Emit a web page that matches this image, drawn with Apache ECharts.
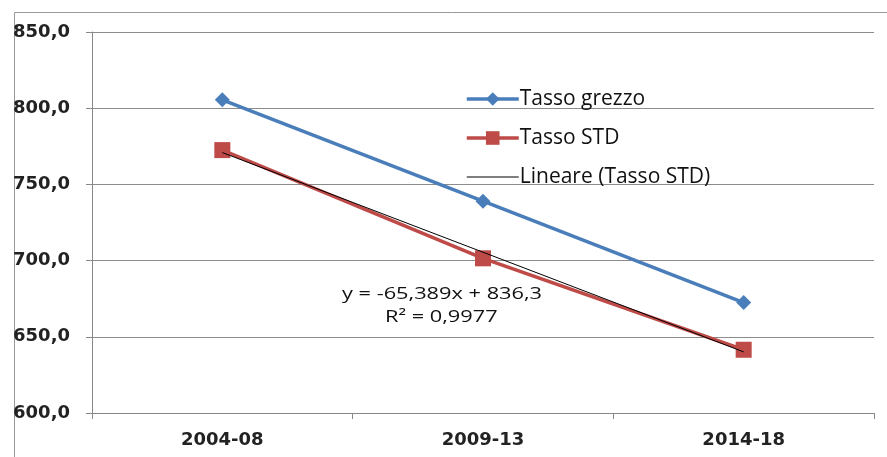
<!DOCTYPE html>
<html><head><meta charset="utf-8">
<script src="https://cdn.jsdelivr.net/npm/echarts@6/dist/echarts.min.js"></script>
<style>html,body{margin:0;padding:0;background:#fff}#c{width:887px;height:457px}</style>
</head><body><div id="c"></div>
<script>
const categories = ['2004-08', '2009-13', '2014-18'];
const tassoGrezzo = [805.5, 739.0, 672.5];
const tassoSTD = [772.5, 701.5, 641.5];
const trendSTD = [770.9, 705.5, 640.1];
const yTicks = [600, 650, 700, 750, 800, 850];
const eqText = 'y = -65,389x + 836,3';
const r2Text = 'R² = 0,9977';

const chart = echarts.init(document.getElementById('c'), null, {renderer: 'canvas'});
const lblFont = '"DejaVu Sans", Verdana, sans-serif';
const txtFont = '"Open Sans", Lato, sans-serif';
chart.setOption({
  animation: false,
  backgroundColor: '#fff',
  grid: {left: 92, right: 13, top: 32, bottom: 44, containLabel: false},
  xAxis: {
    type: 'category', data: categories, boundaryGap: true,
    axisLine: {lineStyle: {color: '#888', width: 1}},
    axisTick: {show: true, length: 6, lineStyle: {color: '#888'}},
    axisLabel: {color: '#222', fontFamily: lblFont, fontWeight: 'bold', fontSize: 18, margin: 18}
  },
  yAxis: {
    type: 'value', min: yTicks[0], max: yTicks[yTicks.length-1], interval: 50,
    axisLine: {show: true, lineStyle: {color: '#888', width: 1}},
    axisTick: {show: true, length: 6, lineStyle: {color: '#888'}},
    splitLine: {lineStyle: {color: '#8c8c8c', width: 1}},
    axisLabel: {color: '#222', fontFamily: lblFont, fontWeight: 'bold', fontSize: 18, margin: 22,
      formatter: v => v.toFixed(1).replace('.', ',')}
  },
  legend: {
    orient: 'vertical', left: 460, top: 80, itemWidth: 52, itemHeight: 17, itemGap: 11,
    textStyle: {fontFamily: txtFont, fontSize: 21, color: '#111', lineHeight: 28, padding: [0,0,0,-4]},
    data: [
      {name: 'Tasso grezzo', lineStyle: {width: 3.5}},
      {name: 'Tasso STD', lineStyle: {width: 3.5}},
      {name: 'Lineare (Tasso STD)', icon: 'path://M0,0 L52,0 L52,1.2 L0,1.2 Z'}
    ]
  },
  series: [
    {name: 'Tasso grezzo', type: 'line', data: tassoGrezzo, symbol: 'diamond', symbolSize: 15,
      lineStyle: {color: '#4a7ebb', width: 3.5}, itemStyle: {color: '#4a7ebb'}, z: 3},
    {name: 'Tasso STD', type: 'line', data: tassoSTD, symbol: 'rect', symbolSize: 16,
      lineStyle: {color: '#be4b48', width: 3.5}, itemStyle: {color: '#be4b48'}, z: 3},
    {name: 'Lineare (Tasso STD)', type: 'line', data: trendSTD, symbol: 'none',
      lineStyle: {color: '#000', width: 1}, itemStyle: {color: '#000'}, z: 4}
  ],
  graphic: [
    {type: 'rect', left: 12, top: 10, shape: {width: 900, height: 500}, silent: true,
      style: {fill: 'none', stroke: '#999', lineWidth: 1}},
    {type: 'text', x: 342, y: 294, scaleX: 1.28, silent: true,
      style: {text: eqText, font: '17px "Open Sans", Lato, sans-serif', fill: '#111', verticalAlign: 'middle', align: 'left'}},
    {type: 'text', x: 385, y: 317, scaleX: 1.28, silent: true,
      style: {text: r2Text, font: '17px "Open Sans", Lato, sans-serif', fill: '#111', verticalAlign: 'middle', align: 'left'}}
  ]
});
</script></body></html>
